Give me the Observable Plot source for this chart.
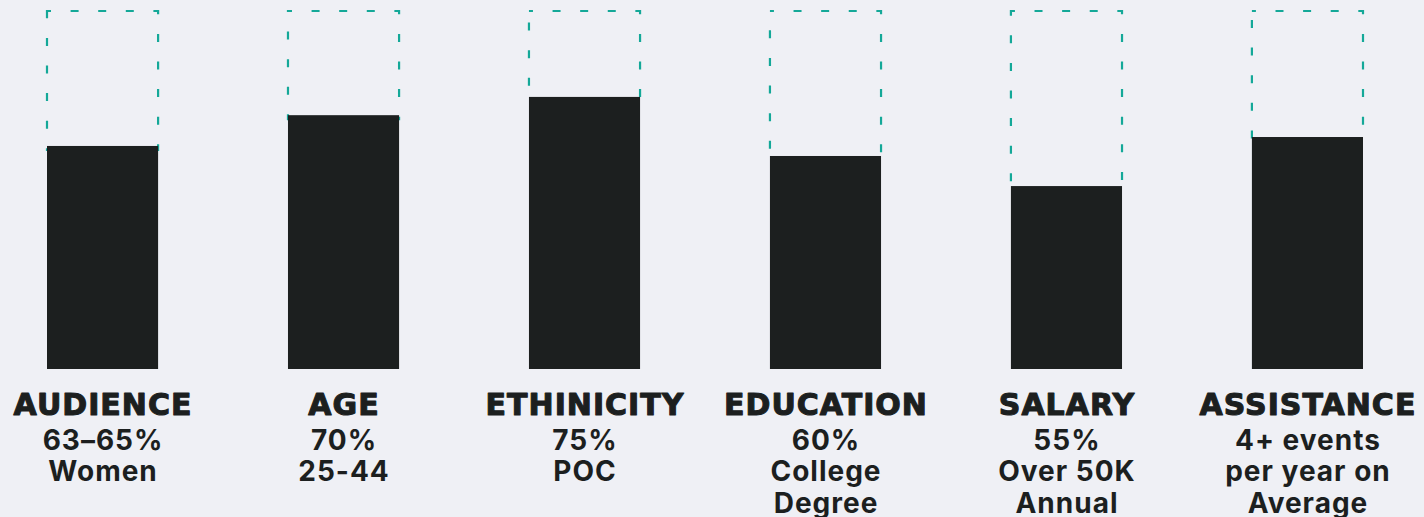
<!DOCTYPE html>
<html>
<head>
<meta charset="utf-8">
<script src="https://cdn.jsdelivr.net/npm/d3@7"></script>
<script src="https://cdn.jsdelivr.net/npm/@observablehq/plot@0.6"></script>
<style>
  html, body { margin: 0; padding: 0; background: #eff0f5; }
  #chart svg { display: block; }
  #chart svg text { letter-spacing: 1px; }
</style>
</head>
<body>
<div id="chart"></div>
<script>
const categories = ["AUDIENCE", "AGE", "ETHINICITY", "EDUCATION", "SALARY", "ASSISTANCE"];
const values = [62.3, 70.9, 76, 59.5, 51.1, 64.8];
const details = [
  "63–65%\nWomen",
  "70%\n25-44",
  "75%\nPOC",
  "60%\nCollege\nDegree",
  "55%\nOver 50K\nAnnual",
  "4+ events\nper year on\nAverage"
];
const maxValue = 100;

const data = categories.map((c, i) => ({category: c, value: values[i], detail: details[i], max: maxValue}));

const ink = "#1c1f1f";
const teal = "#14a898";

const chart = Plot.plot({
  width: 1424,
  height: 517,
  margin: 0,
  style: {background: "#eff0f5", overflow: "visible"},
  x: {domain: categories, range: [47, 1363], paddingInner: 0.539, paddingOuter: 0, round: false, axis: null},
  y: {domain: [0, maxValue], range: [369, 11], axis: null},
  marks: [
    Plot.barY(data, {
      x: "category", y1: "value", y2: "max", insetBottom: -4,
      fill: "none", stroke: teal, strokeWidth: 2.2,
      strokeDasharray: "8,19.6", strokeDashoffset: 4
    }),
    Plot.barY(data, {x: "category", y1: 0, y2: "value", fill: ink}),
    Plot.text(data, {
      x: "category", y: 0, text: "category", dy: 24, lineAnchor: "top",
      fontSize: 30, fontWeight: 900, fontFamily: "DejaVu Sans", fill: ink,
      stroke: ink, strokeWidth: 1.1
    }),
    Plot.text(data, {
      x: "category", y: 0, text: "detail", dy: 58, lineAnchor: "top",
      lineHeight: 1.125, fontSize: 28, fontWeight: 750, fontFamily: "Inter", fill: ink
    })
  ]
});
document.getElementById("chart").appendChild(chart);
</script>
</body>
</html>
